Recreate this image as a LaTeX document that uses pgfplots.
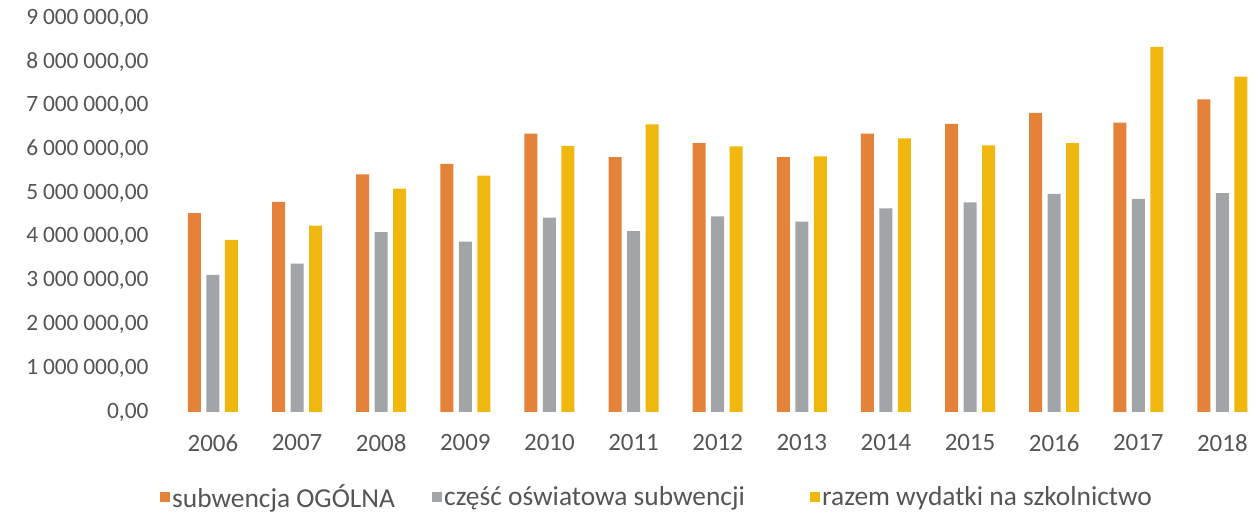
\documentclass[border=0pt]{standalone}
\usepackage{fontspec}
\setmainfont{Carlito}
\usepackage{pgfplots}
\pgfplotsset{compat=1.18}
\definecolor{cOrange}{HTML}{E4823A}
\definecolor{cGray}{HTML}{A2A5A8}
\definecolor{cYellow}{HTML}{F0B80F}
\definecolor{tgray}{HTML}{555555}
\def\s{\hspace{0.2em}}
\begin{document}
\begin{tikzpicture}
\begin{axis}[
  scale only axis, width=1096bp, height=394bp,
  xmin=-0.63, xmax=12.40, ymin=0, ymax=9000000,
  scaled y ticks=false,
  ybar=5.5bp, bar width=13bp,
  axis line style={draw=none}, major tick length=0pt,
  xtick={0,1,2,3,4,5,6,7,8,9,10,11,12},
  xticklabels={2006,2007,2008,2009,2010,2011,2012,2013,2014,2015,2016,2017,2018},
  ytick={0,1000000,2000000,3000000,4000000,5000000,6000000,7000000,8000000,9000000},
  yticklabels={{0,00},{1\s000\s000,00},{2\s000\s000,00},{3\s000\s000,00},{4\s000\s000,00},{5\s000\s000,00},{6\s000\s000,00},{7\s000\s000,00},{8\s000\s000,00},{9\s000\s000,00}},
  /pgf/number format/assume math mode=true,
  yticklabel style={font=\fontsize{23.5}{28}\selectfont, text=tgray, xshift=-8bp},
  xticklabel style={font=\fontsize{25}{29}\selectfont, text=tgray, yshift=-19bp},
  legend style={at={(0,-0.215)}, anchor=west, draw=none, fill=none, legend columns=3,
    inner xsep=0pt, inner ysep=0pt, font=\fontsize{27.5}{32}\selectfont, text=tgray,
    /tikz/every odd column/.append style={column sep=0bp}},
  legend cell align=left,
  legend image code/.code={\fill[#1,draw=none] (0bp,-5bp) rectangle (10bp,5bp);},
]
\addplot[fill=cOrange, draw=none] coordinates {(0,4540000) (1,4800000) (2,5430000) (3,5670000) (4,6360000) (5,5820000) (6,6140000) (7,5820000) (8,6360000) (9,6580000) (10,6830000) (11,6610000) (12,7140000)};
\addlegendentry{\makebox[258bp][l]{subwencja OGÓLNA}}
\addplot[fill=cGray, draw=none] coordinates {(0,3130000) (1,3390000) (2,4110000) (3,3890000) (4,4440000) (5,4130000) (6,4470000) (7,4350000) (8,4650000) (9,4790000) (10,4980000) (11,4870000) (12,5000000)};
\addlegendentry{\makebox[364bp][l]{część oświatowa subwencji}}
\addplot[fill=cYellow, draw=none] coordinates {(0,3930000) (1,4260000) (2,5100000) (3,5400000) (4,6080000) (5,6570000) (6,6070000) (7,5840000) (8,6250000) (9,6090000) (10,6140000) (11,8340000) (12,7660000)};
\addlegendentry{razem wydatki na szkolnictwo}
\end{axis}
\pgfresetboundingbox
\path (current axis.south west) ++(-160bp,-103bp) coordinate (bb1);
\path (current axis.north east) ++(0bp,18bp) coordinate (bb2);
\useasboundingbox (bb1) rectangle (bb2);
\end{tikzpicture}
\end{document}
